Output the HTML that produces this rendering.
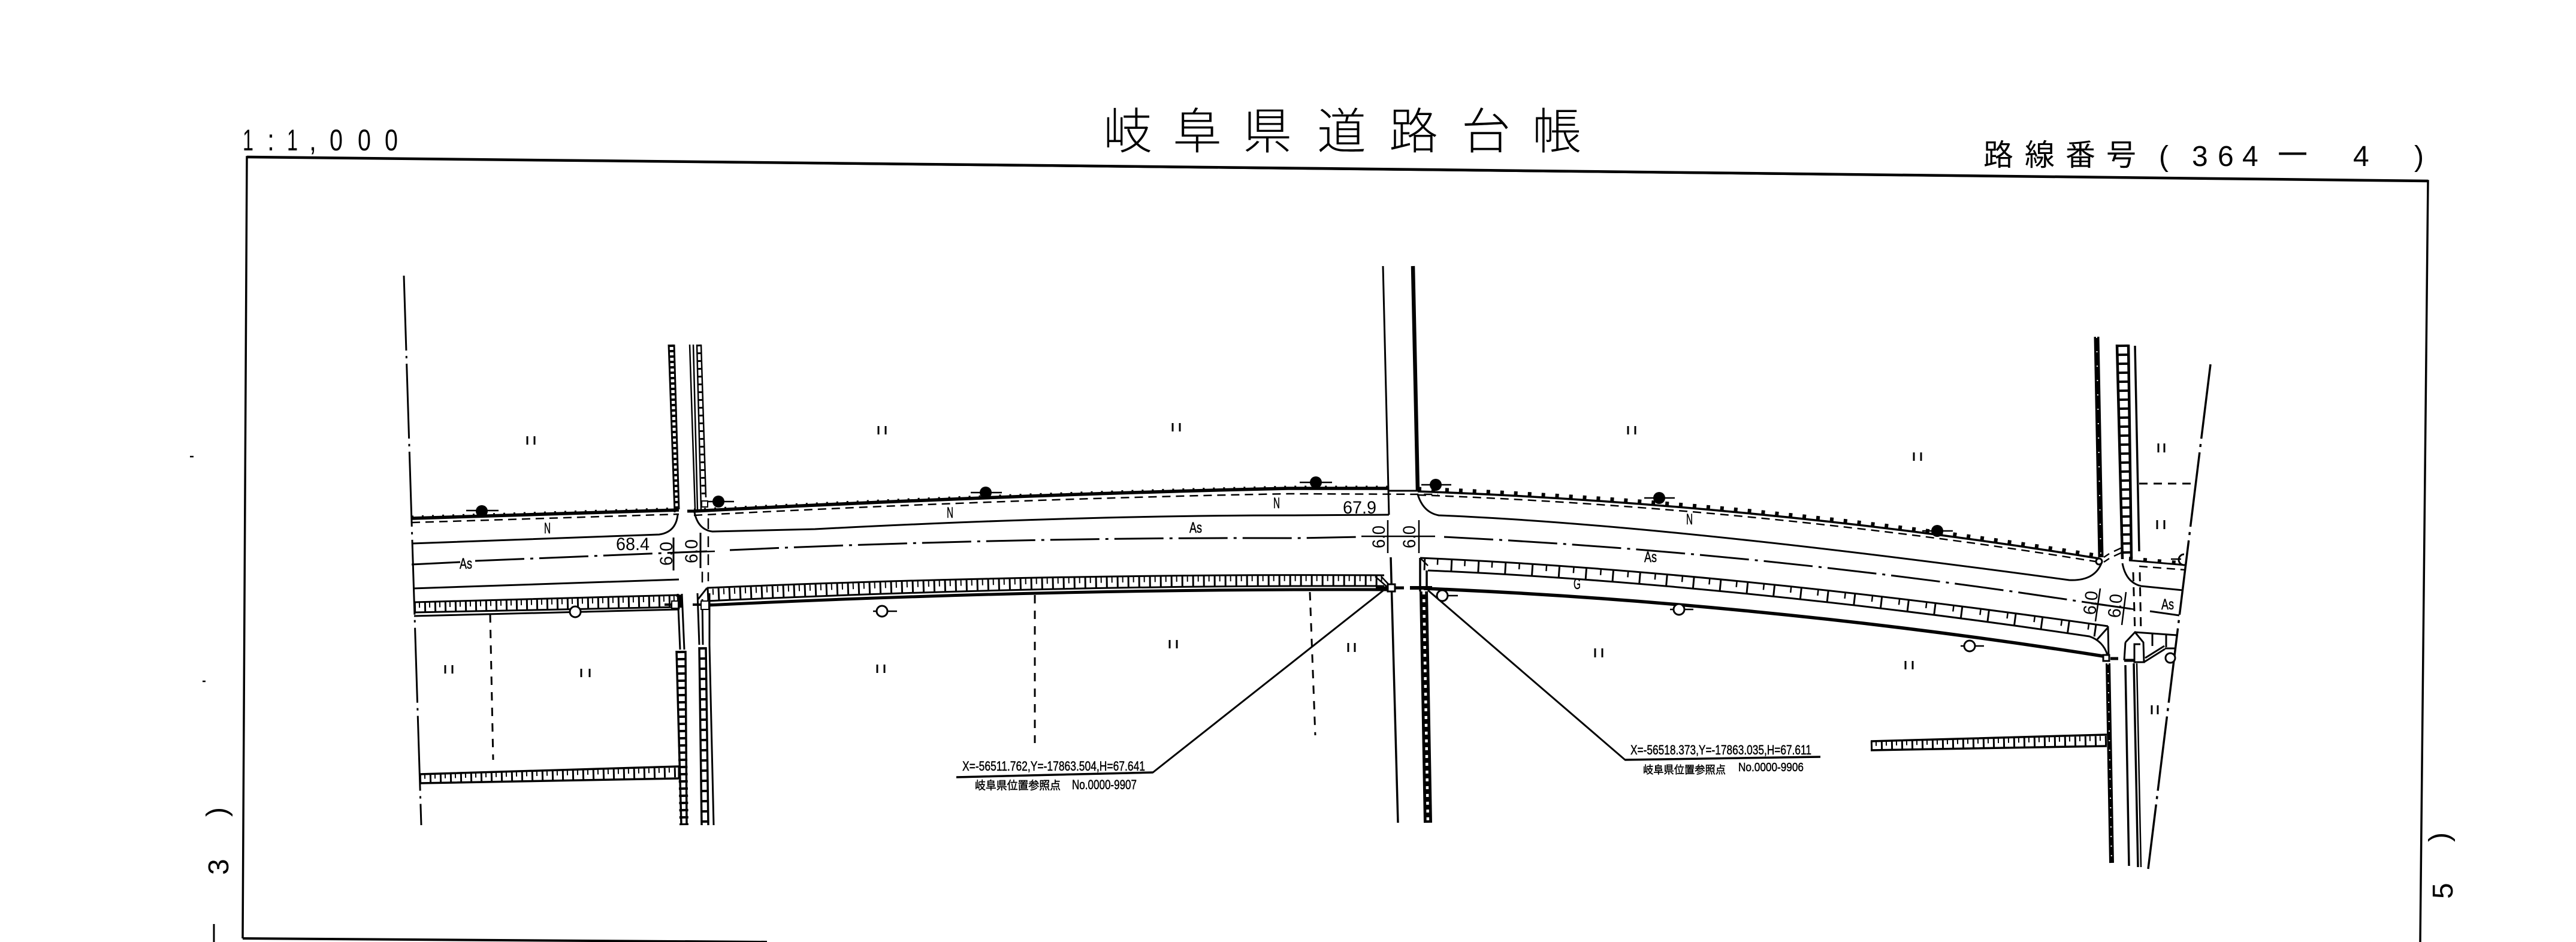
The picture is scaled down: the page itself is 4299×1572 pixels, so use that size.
<!DOCTYPE html>
<html lang="ja"><head><meta charset="utf-8"><title>岐阜県道路台帳</title>
<style>
html,body{margin:0;padding:0;background:#fff;width:4299px;height:1572px;overflow:hidden}
svg{display:block}
text{fill:#000;font-family:"Liberation Sans","Noto Sans CJK JP",sans-serif}
.j{font-family:"Noto Sans CJK JP","Liberation Sans",sans-serif}
.b{stroke:#000;stroke-width:.5}
</style></head><body>
<svg xmlns="http://www.w3.org/2000/svg" width="4299" height="1572" viewBox="0 0 4299 1572">
<rect width="4299" height="1572" fill="#fff"/>
<g fill="none" stroke="#000" stroke-width="3">
<!-- frame -->
<path d="M405 1566L412 262L4052 302L4039 1572" stroke-width="3.5"/>
<path d="M412 262L2200 281L4052 302" stroke-width="4.5"/>
<path d="M405 1566L1280 1572" stroke-width="4"/>
<path d="M357 1542V1572"/>
<path d="M317 762h6M338 1137h5" stroke-width="2.5"/>

<!-- left boundary -->
<path d="M674 460L703 1377" stroke-dasharray="125 9 4 9"/>

<!-- main road upper heavy lines -->
<path d="M687 865L1133 851" stroke-width="5.5"/>
<path d="M687 862L1133 848" stroke-width="3" stroke-dasharray="3 14"/>
<path d="M687 872L1133 858" stroke-dasharray="14 9" stroke-width="2.5"/>
<path d="M1147 853h12" stroke-width="5"/>
<path d="M1158 853Q1700 825 2150 815L2317 815" stroke-width="5.5"/>
<path d="M1158 850Q1700 822 2150 812L2317 812" stroke-width="3" stroke-dasharray="3 14"/>
<path d="M1158 860Q1700 832 2150 824L2400 825" stroke-dasharray="14 9" stroke-width="2.5"/>
<path d="M2317 819H2366" stroke-width="3"/>
<!-- road edges -->
<path d="M687 907L1100 892Q1128 888 1131 859"/>
<path d="M1159 855Q1165 884 1189 887L1360 883Q1800 860 2150 860L2318 859"/>
<path d="M2308 444L2318 859" stroke-width="3"/>
<!-- centre lines -->
<path d="M687 942L768 938M793 936L1180 920" stroke-dasharray="82 10 5 10"/>
<path d="M1218 918Q1700 896 2165 898L2272 896" stroke-dasharray="82 10 5 10"/>
<path d="M2410 896C2800 915 3150 955 3460 1002L3563 1017M3588 1020L3637 1027" stroke-dasharray="82 10 5 10"/>
<path d="M689 982L1133 967"/>

<!-- left lower gutter -->
<path d="M691 1005L1133 993M691 1022L1133 1013"/>
<path d="M691 1028L1133 1017" stroke-width="3"/>
<path d="M691 1013.5L1133 1003" stroke-width="18" stroke-dasharray="3 14"/>
<path d="M691 1010L1133 999" stroke-width="9" stroke-dasharray="2 15" stroke-dashoffset="-8"/>
<path d="M1133 992V1017M1128 994h8v20"/>

<!-- middle lower gutter -->
<path d="M1180 981Q1750 957 2310 960M1180 1003Q1750 976 2310 978"/>
<path d="M1180 1010Q1750 982 2315 984" stroke-width="5"/>
<path d="M1180 992Q1750 966 2310 969" stroke-width="20" stroke-dasharray="3 15"/>
<path d="M1180 988Q1750 962 2310 965" stroke-width="10" stroke-dasharray="2 16" stroke-dashoffset="-9"/>
<path d="M2295 962L2318 982M2305 962L2322 980" stroke-width="2.5"/>
<path d="M1165 1000L1180 981"/>

<!-- lower-left bottom gutter -->
<path d="M700 1292L1133 1279M700 1307L1133 1299" stroke-width="3.5"/>
<path d="M700 1300L1133 1289" stroke-width="16" stroke-dasharray="3 14"/>
<path d="M700 1296L1133 1285" stroke-width="8" stroke-dasharray="2 15" stroke-dashoffset="-8"/>
<path d="M1133 1279V1299"/>

<!-- lower-right bottom gutter -->
<path d="M3122 1237L3516 1226M3122 1252L3516 1245" stroke-width="3.5"/>
<path d="M3122 1245L3516 1236" stroke-width="16" stroke-dasharray="3 14"/>
<path d="M3122 1241L3516 1232" stroke-width="8" stroke-dasharray="2 15" stroke-dashoffset="-8"/>

<!-- left vertical road, upper -->
<path d="M1116 575L1126 855M1125 575L1133 850"/>
<path d="M1120.5 575L1129.5 850" stroke-width="8" stroke-dasharray="4 5"/>
<path d="M1151 575L1160 850M1157 575L1164 850M1163 575L1170 850M1170 575L1178 830" stroke-width="2.5"/>
<path d="M1167 575L1174 830" stroke-width="6" stroke-dasharray="3 10"/>

<!-- left vertical road, lower -->
<path d="M1131 991L1135 1084M1138 991L1142 1084"/>
<path d="M1129 1086L1137 1377M1144 1086L1146 1377" stroke-width="3.5"/>
<path d="M1136.5 1086L1141.5 1377" stroke-width="15" stroke-dasharray="4 8"/>
<path d="M1164 990L1167 1076M1172 1000L1173 1076M1184 990L1184 1076"/>
<path d="M1167 1080L1171 1377M1178 1080L1182 1377" stroke-width="3.5"/>
<path d="M1172.5 1080L1176.5 1377" stroke-width="13" stroke-dasharray="4 13"/>
<path d="M1184 1076L1191 1377"/>
<path d="M1172 954V974M1182 865V970" stroke-dasharray="18 12" stroke-width="2.5"/>
<path d="M1124 897V952M1169 889V948"/>
<path d="M1124 922L1193 920" stroke-width="2.5"/>
<path d="M1109 1009H1140M1156 1009H1190" stroke-width="4"/>
<rect x="1121" y="1003" width="11" height="12" fill="#fff" stroke-width="2"/>
<rect x="1170" y="1003" width="13" height="14" fill="#fff" stroke-width="2"/>
<rect x="1171" y="836" width="10" height="10" fill="#fff" stroke-width="2"/>

<!-- middle vertical road -->
<path d="M2358 444L2366 820" stroke-width="6.5"/>
<path d="M2321 930L2333 1373" stroke-width="3.5"/>
<path d="M2316 868V923M2368 868V923" stroke-width="2.5"/>
<path d="M2272 895H2395" stroke-width="2.5"/>
<path d="M2376 987L2383 1373" stroke-width="14"/>
<path d="M2376 987L2383 1373" stroke="#fff" stroke-width="4.5" stroke-dasharray="5 8"/>
<path d="M2370 931V987M2381 952V985" stroke-width="3.5"/>
<path d="M2370 931L2383 944" stroke-width="2.5"/>
<path d="M2296 981H2343" stroke-width="5"/>
<path d="M2353 981H2390" stroke-width="6"/>
<rect x="2316" y="975" width="12" height="12" fill="#fff" stroke-width="3"/>

<!-- leaders -->
<path d="M2309 985L1924 1289L1596 1297" stroke-width="3"/>
<path d="M2383 985L2712 1268L3038 1263" stroke-width="3"/>
<path d="M1924 1289L1596 1297M2712 1268L3038 1263" stroke-width="3.5"/>

<!-- dashed parcel lines -->
<path d="M818 1025L823 1268M1727 993L1727 1240M2186 988L2195 1227" stroke-dasharray="14 12" stroke-width="3"/>

<!-- right road -->
<path d="M2366 820C2700 832 3100 866 3503 932" stroke-width="3.5"/>
<path d="M2366 816C2700 828 3100 862 3503 928" stroke-width="7" stroke-dasharray="6 17"/>
<path d="M2366 826C2700 838 3100 872 3503 938" stroke-width="2.5" stroke-dasharray="14 9"/>
<path d="M2366 825Q2375 855 2401 860C2700 872 3100 920 3453 968Q3495 970 3507 940"/>
<path d="M2370 931C2700 945 3100 985 3518 1045"/>
<path d="M2383 952C2700 965 3100 1004 3487 1062Q3510 1070 3517 1093"/>
<path d="M2376 982C2700 995 3100 1030 3510 1095" stroke-width="5.5"/>
<path d="M2376 941C2700 955 3100 995 3505 1053" stroke-width="21" stroke-dasharray="3 42"/>
<path d="M2376 936C2700 950 3100 990 3505 1048" stroke-width="11" stroke-dasharray="2.5 43" stroke-dashoffset="-22"/>
<path d="M3518 1045L3519 1097M3518 1047L3500 1067"/>

<!-- right verticals -->
<path d="M3499 562L3506 930" stroke-width="9"/>
<path d="M3499 562L3506 930" stroke="#fff" stroke-width="2" stroke-dasharray="2 22"/>
<path d="M3533 575L3542 933M3552 575L3557 933" stroke-width="4.5"/>
<path d="M3542.5 575L3549 933" stroke-width="19" stroke-dasharray="4 11"/>
<path d="M3563 577L3570 920" stroke-width="3.5"/>
<path d="M3689 608L3585 1450" stroke-dasharray="125 9 5 9" stroke-width="3.5"/>
<path d="M3570 807H3665" stroke-dasharray="14 10" stroke-width="3"/>

<!-- right intersection -->
<path d="M3553 935L3647 943" stroke-width="3"/>
<path d="M3553 935L3647 943" transform="translate(0 -3)" stroke-width="6" stroke-dasharray="6 18"/>
<path d="M3570 945L3647 951" stroke-dasharray="14 9" stroke-width="2.5"/>
<path d="M3542 940Q3548 972 3573 978L3643 985"/>
<path d="M3563 1055L3633 1060M3592 1057V1078M3615 1060V1080M3613 1082H3632"/>
<path d="M3578 1105L3613 1083M3580 1098L3612 1078"/>
<path d="M3547 1072L3563 1055L3577 1072L3578 1105H3562V1075H3572"/>
<path d="M3547 1072L3545 1102" stroke-width="3"/>
<path d="M3545 1102H3562" stroke-width="5"/>
<path d="M3547 1110L3553 1445" stroke-width="3.5"/>
<path d="M3561 1107L3568 1447" stroke-width="3.5"/>
<path d="M3566 1107L3573 1447" stroke-width="2.5"/>
<path d="M3518 1107L3524 1440" stroke-width="8"/>
<path d="M3518 1107L3524 1440" stroke="#fff" stroke-width="2" stroke-dasharray="2 14"/>
<path d="M3522 1099H3535" stroke-width="5"/>
<rect x="3510" y="1093" width="10" height="10" fill="#fff" stroke-width="3"/>
<path d="M3505 982L3497 1037M3548 988L3541 1043" stroke-width="2.5"/>
<path d="M3490 1007L3563 1017" stroke-width="2.5"/>
<path d="M3560 955L3563 1055M3571 955L3573 1055" stroke-dasharray="15 10" stroke-width="3"/>
<path d="M3528 920L3541 914M3528 928L3541 922M3511 930L3520 924M3511 938L3520 932" stroke-width="2.5"/>

<!-- open circles -->
<g fill="#fff">
<circle cx="960" cy="1021" r="9"/><circle cx="1472" cy="1020" r="9"/><circle cx="2407" cy="994" r="9"/><circle cx="2802" cy="1017" r="9"/><circle cx="3287" cy="1078" r="9"/><circle cx="3503" cy="937" r="5"/><circle cx="3622" cy="1098" r="8"/>
</g>
<path d="M3645 925a9 9 0 0 0 0 18" fill="#fff"/>
<path d="M3623 933H3640M968 1021h12M1457 1020H1463M1481 1020h16M2416 994h17M2787 1017h6M2811 1017h15M3272 1078h6M3296 1078h15" stroke-width="2.5"/>

<!-- filled signs -->
<g fill="#000" stroke="none">
<circle cx="804" cy="853" r="10"/><circle cx="1199" cy="837" r="10"/><circle cx="1645" cy="822" r="10"/><circle cx="2196" cy="805" r="10"/><circle cx="2396" cy="809" r="10"/><circle cx="2769" cy="831" r="10"/><circle cx="3233" cy="886" r="10"/>
</g>
<path d="M778 852H832M1180 837H1225M1620 822H1672M2169 805H2223M2372 809H2422M2744 831H2795M3208 886H3259" stroke-width="2.5"/>

<!-- ditto marks -->
<path d="M743 1110v14M755 1110v14M970 1116v14M984 1116v14M880 728v14M892 728v14M1466 711v14M1478 711v14M1957 706v14M1969 706v14M2717 711v14M2729 711v14M3194 755v14M3206 755v14M3602 740v15M3612 740v15M3600 868v15M3612 868v15M3591 1177v15M3601 1177v15M1464 1109v14M1476 1109v14M1952 1068v14M1964 1068v14M2250 1073v15M2261 1073v15M2662 1082v15M2674 1082v15M3180 1103v14M3192 1103v14" stroke-width="3"/>
</g>

<!-- scale -->
<g font-size="50">
<text x="405" y="251" textLength="18" lengthAdjust="spacingAndGlyphs">1</text>
<text x="446" y="251" textLength="12" lengthAdjust="spacingAndGlyphs">:</text>
<text x="479" y="251" textLength="18" lengthAdjust="spacingAndGlyphs">1</text>
<text x="516" y="251" textLength="12" lengthAdjust="spacingAndGlyphs">,</text>
<text x="550" y="251" textLength="22" lengthAdjust="spacingAndGlyphs">0</text>
<text x="597" y="251" textLength="22" lengthAdjust="spacingAndGlyphs">0</text>
<text x="642" y="251" textLength="22" lengthAdjust="spacingAndGlyphs">0</text>
</g>

<!-- title -->
<g class="j" font-size="82" font-weight="300" text-anchor="middle">
<text class="j" x="1882" y="248">岐</text>
<text class="j" x="1998" y="248">阜</text>
<text class="j" x="2115" y="248">県</text>
<text class="j" x="2239" y="248">道</text>
<text class="j" x="2359" y="248">路</text>
<text class="j" x="2480" y="248">台</text>
<text class="j" x="2598" y="248">帳</text>
</g>

<!-- route number -->
<g font-size="50" text-anchor="middle">
<text class="j" x="3335" y="276">路</text>
<text class="j" x="3404" y="276">線</text>
<text class="j" x="3472" y="276">番</text>
<text class="j" x="3540" y="276">号</text>
</g>
<g font-size="48">
<text x="3603" y="277">(</text>
<text x="3658" y="277">3</text>
<text x="3701" y="277">6</text>
<text x="3742" y="277">4</text>
<text x="3927" y="277">4</text>
<text x="4029" y="277">)</text>
</g>
<text class="j" x="3826" y="276" font-size="50" text-anchor="middle">一</text>

<!-- side labels -->
<g font-size="48">
<text transform="translate(381 1460) rotate(-90)">3</text>
<text transform="translate(378 1363) rotate(-90)">)</text>
<text transform="translate(4093 1500) rotate(-90)">5</text>
<text transform="translate(4087 1405) rotate(-90)">)</text>
</g>

<!-- dimensions -->
<g font-size="30">
<text x="1028" y="918" textLength="56" lengthAdjust="spacingAndGlyphs">68.4</text>
<text x="2241" y="857" textLength="56" lengthAdjust="spacingAndGlyphs">67.9</text>
<text transform="translate(1122 944) rotate(-90)" textLength="40" lengthAdjust="spacingAndGlyphs">6.0</text>
<text transform="translate(1164 940) rotate(-90)" textLength="40" lengthAdjust="spacingAndGlyphs">6.0</text>
<text transform="translate(2311 915) rotate(-90)" textLength="38" lengthAdjust="spacingAndGlyphs">6.0</text>
<text transform="translate(2362 915) rotate(-90)" textLength="38" lengthAdjust="spacingAndGlyphs">6.0</text>
<text transform="translate(3497 1027) rotate(-84)" textLength="40" lengthAdjust="spacingAndGlyphs">6.0</text>
<text transform="translate(3538 1032) rotate(-84)" textLength="40" lengthAdjust="spacingAndGlyphs">6.0</text>
</g>

<!-- surface labels -->
<g font-size="25">
<text class="b" x="908" y="890" textLength="11" lengthAdjust="spacingAndGlyphs">N</text>
<text class="b" x="1580" y="864" textLength="11" lengthAdjust="spacingAndGlyphs">N</text>
<text class="b" x="2125" y="848" textLength="11" lengthAdjust="spacingAndGlyphs">N</text>
<text class="b" x="2814" y="875" textLength="11" lengthAdjust="spacingAndGlyphs">N</text>
<text class="b" x="767" y="949" textLength="21" lengthAdjust="spacingAndGlyphs">As</text>
<text class="b" x="1985" y="889" textLength="21" lengthAdjust="spacingAndGlyphs">As</text>
<text class="b" x="2744" y="938" textLength="21" lengthAdjust="spacingAndGlyphs">As</text>
<text class="b" x="3607" y="1017" textLength="21" lengthAdjust="spacingAndGlyphs">As</text>
<text class="b" x="2626" y="983" textLength="12" lengthAdjust="spacingAndGlyphs">G</text>
</g>

<!-- reference point labels -->
<text class="b" x="1606" y="1286" font-size="22" textLength="305" lengthAdjust="spacingAndGlyphs">X=-56511.762,Y=-17863.504,H=67.641</text>
<text class="j b" x="1627" y="1317" font-size="19" textLength="143" lengthAdjust="spacingAndGlyphs">岐阜県位置参照点</text>
<text class="b" x="1789" y="1317" font-size="22" textLength="108" lengthAdjust="spacingAndGlyphs">No.0000-9907</text>
<text class="b" x="2721" y="1259" font-size="22" textLength="302" lengthAdjust="spacingAndGlyphs">X=-56518.373,Y=-17863.035,H=67.611</text>
<text class="j b" x="2742" y="1291" font-size="18" textLength="138" lengthAdjust="spacingAndGlyphs">岐阜県位置参照点</text>
<text class="b" x="2901" y="1287" font-size="20" textLength="109" lengthAdjust="spacingAndGlyphs">No.0000-9906</text>
</svg>
</body></html>
